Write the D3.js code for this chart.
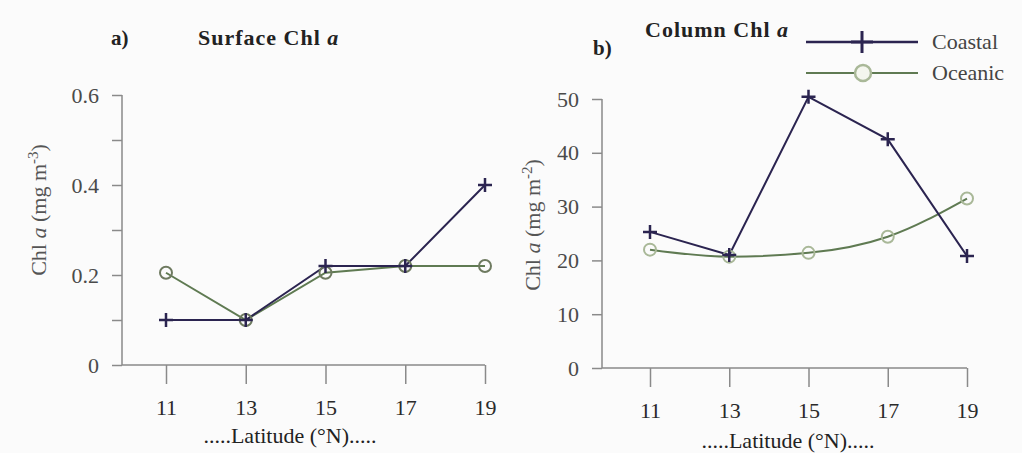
<!DOCTYPE html>
<html>
<head>
<meta charset="utf-8">
<script src="https://cdn.jsdelivr.net/npm/d3@7"></script>
<style>
  body { margin: 0; background: #fbfbfb; }
  svg { display: block; font-family: "Liberation Serif", "DejaVu Serif", serif; }
</style>
</head>
<body>
<div id="chart"></div>
<script>
// Latitude (°N)
const latitudes = [11, 13, 15, 17, 19];

// a) Surface Chl a (mg m-3)
const surfaceCoastal = [0.10, 0.10, 0.22, 0.22, 0.40];
const surfaceOceanic = [0.205, 0.10, 0.205, 0.22, 0.22];
const surfaceTicks = [0, 0.2, 0.4, 0.6];
const surfaceMinor = [0.1, 0.3, 0.5];

// b) Column Chl a (mg m-2)
const columnCoastal = [25.3, 21.0, 50.4, 42.5, 20.8];
const columnOceanic = [22.0, 20.7, 21.4, 24.4, 31.5];
const columnTicks = [0, 10, 20, 30, 40, 50];

const coastalColor = "#2b2450";
const oceanicColor = "#5f7a52";
const oceanicMarker = "#a9b898";
const axisColor = "#8a8a8a";
const textColor = "#4a4a4a";

const svg = d3.select("#chart")
  .append("svg")
  .attr("width", 1022)
  .attr("height", 453);

function crossPath(size) {
  return `M${-size},0H${size}M0,${-size}V${size}`;
}

function drawPanel(cfg) {
  const g = svg.append("g");

  const x = d3.scaleLinear().domain([11, 19]).range([cfg.x11, cfg.x19]);
  const y = d3.scaleLinear().domain(cfg.domain).range([cfg.y0, cfg.yTop]);

  // y axis
  g.append("g")
    .attr("transform", `translate(${cfg.axisX},0)`)
    .call(d3.axisLeft(y).tickValues(cfg.ticks).tickSize(10).tickPadding(13)
      .tickFormat(cfg.format));
  if (cfg.minor) {
    g.append("g")
      .attr("transform", `translate(${cfg.axisX},0)`)
      .call(d3.axisLeft(y).tickValues(cfg.minor).tickSize(10).tickFormat(""))
      .call((s) => s.select(".domain").remove());
  }

  // x axis line
  g.append("line")
    .attr("x1", cfg.axisX).attr("x2", x(19))
    .attr("y1", y(0)).attr("y2", y(0))
    .attr("stroke", axisColor).attr("stroke-width", 1.5);

  const xAxis = g.append("g")
    .attr("class", "x-axis")
    .attr("transform", `translate(0,${y(0)})`)
    .call(d3.axisBottom(x).tickValues(latitudes).tickSize(cfg.tickDown).tickPadding(15)
      .tickFormat(d3.format("d")));
  xAxis.select(".domain").remove();

  g.selectAll(".domain").attr("stroke", axisColor).attr("stroke-width", 1.5)
    .attr("d", `M0,${y(0)}V${cfg.yTop}`);
  g.selectAll(".tick line").attr("stroke", axisColor).attr("stroke-width", 1.5);
  g.selectAll(".tick text").attr("fill", textColor).attr("font-size", 22)
    .attr("font-family", "Liberation Serif");
  xAxis.selectAll(".tick text").attr("fill", "#2a2a2a");

  // x axis title
  g.append("text")
    .attr("x", cfg.titleX).attr("y", cfg.xTitleY)
    .attr("text-anchor", "middle")
    .attr("font-size", 22).attr("fill", "#222")
    .text(".....Latitude (°N).....");

  // y axis title
  const yt = g.append("text")
    .attr("transform", `translate(${cfg.yLabelX},${cfg.yLabelY}) rotate(-90)`)
    .attr("text-anchor", "middle")
    .attr("font-size", 22).attr("fill", "#555");
  yt.append("tspan").text("Chl ");
  yt.append("tspan").attr("font-style", "italic").text("a");
  yt.append("tspan").text(" (mg m");
  yt.append("tspan").attr("baseline-shift", "super").attr("font-size", 15).text(cfg.unitExp);
  yt.append("tspan").text(")");

  // panel letter + title
  g.append("text")
    .attr("x", cfg.letterX).attr("y", cfg.letterY)
    .attr("font-weight", "bold").attr("font-size", 21).attr("fill", "#222")
    .text(cfg.letter);
  const tt = g.append("text")
    .attr("x", cfg.headX).attr("y", cfg.headY)
    .attr("font-weight", "bold").attr("font-size", 22).attr("fill", "#222")
    .attr("letter-spacing", 1);
  tt.append("tspan").text(cfg.head + " ");
  tt.append("tspan").attr("font-style", "italic").text("a");

  const pts = (vals) => latitudes.map((lat, i) => ({ lat, v: vals[i] }));

  const oceanicLine = d3.line()
    .x((d) => x(d.lat)).y((d) => y(d.v))
    .curve(cfg.smoothOceanic ? d3.curveMonotoneX : d3.curveLinear);
  const coastalLine = d3.line().x((d) => x(d.lat)).y((d) => y(d.v));

  g.append("path")
    .datum(pts(cfg.oceanic))
    .attr("fill", "none").attr("stroke", oceanicColor).attr("stroke-width", 2)
    .attr("d", oceanicLine);

  g.append("path")
    .datum(pts(cfg.coastal))
    .attr("fill", "none").attr("stroke", coastalColor).attr("stroke-width", 2)
    .attr("d", coastalLine);

  g.selectAll(".oc")
    .data(pts(cfg.oceanic))
    .enter()
    .append("circle")
    .attr("class", "oc")
    .attr("cx", (d) => x(d.lat)).attr("cy", (d) => y(d.v))
    .attr("r", 6)
    .attr("fill", "none").attr("stroke", cfg.markerColor).attr("stroke-width", 2);

  g.selectAll(".co")
    .data(pts(cfg.coastal))
    .enter()
    .append("path")
    .attr("class", "co")
    .attr("transform", (d) => `translate(${x(d.lat)},${y(d.v)})`)
    .attr("d", crossPath(7))
    .attr("stroke", coastalColor).attr("stroke-width", 2.5);
}

drawPanel({
  domain: [0, 0.6], ticks: surfaceTicks, minor: surfaceMinor,
  format: (d) => (d === 0 ? "0" : d3.format(".1f")(d)),
  axisX: 122, x11: 166, x19: 485, y0: 365, yTop: 95, tickDown: 19,
  oceanic: surfaceOceanic, coastal: surfaceCoastal, smoothOceanic: false,
  markerColor: "#6e7a60",
  titleX: 290, xTitleY: 443, yLabelX: 46, yLabelY: 210, unitExp: "-3",
  letter: "a)", letterX: 111, letterY: 45, head: "Surface Chl", headX: 198, headY: 45
});

drawPanel({
  domain: [0, 50], ticks: columnTicks, minor: null,
  format: d3.format("d"),
  axisX: 602, x11: 650, x19: 967, y0: 368, yTop: 99, tickDown: 19,
  oceanic: columnOceanic, coastal: columnCoastal, smoothOceanic: true,
  markerColor: oceanicMarker,
  titleX: 788, xTitleY: 448, yLabelX: 540, yLabelY: 225, unitExp: "-2",
  letter: "b)", letterX: 593, letterY: 55, head: "Column Chl", headX: 645, headY: 37
});

// legend
const legendItems = ["Coastal", "Oceanic"];
const legend = svg.selectAll(".legend-item")
  .data(legendItems)
  .enter()
  .append("g")
  .attr("class", "legend-item")
  .attr("transform", (d, i) => `translate(806, ${42 + i * 31})`);

legend.append("line")
  .attr("x1", 0).attr("x2", 112)
  .attr("stroke", (d) => (d === "Coastal" ? coastalColor : oceanicColor))
  .attr("stroke-width", (d) => (d === "Coastal" ? 2.5 : 1.8));

legend.filter((d) => d === "Coastal")
  .append("path")
  .attr("transform", "translate(56,0)")
  .attr("d", crossPath(11))
  .attr("stroke", coastalColor).attr("stroke-width", 3);

legend.filter((d) => d === "Oceanic")
  .append("circle")
  .attr("cx", 57).attr("r", 8)
  .attr("fill", "#f4f6ee").attr("stroke", oceanicMarker).attr("stroke-width", 2.5);

legend.append("text")
  .attr("x", 126).attr("y", 7)
  .attr("font-size", 22).attr("fill", "#444")
  .text((d) => d);
</script>
</body>
</html>
